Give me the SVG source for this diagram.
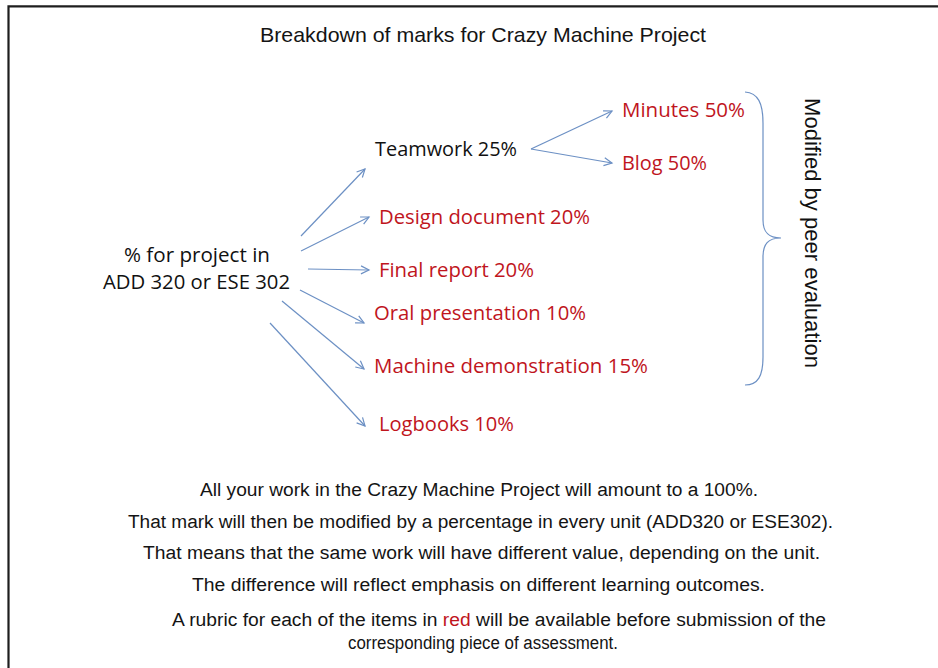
<svg xmlns="http://www.w3.org/2000/svg" width="938" height="668" viewBox="0 0 938 668">
  <style>
    .frame { fill: none; stroke: #1e1e1e; stroke-width: 2.2; }
    .narrow { font-family: "Liberation Sans", Arial, sans-serif; fill: #141414; }
    .label { font-family: "Open Sans", "Noto Sans", sans-serif; font-size: 20px; }
    .black { fill: #111111; }
    .red { fill: #c0151d; }
    .conn { fill: none; stroke: #6c90c4; stroke-width: 1.2; }
  </style>
  <defs>
    <marker id="arrow" markerUnits="userSpaceOnUse" markerWidth="12" markerHeight="12" refX="9" refY="5" orient="auto">
      <path d="M1,1 L9,5 L1,9" fill="none" stroke="#6c90c4" stroke-width="1.2"/>
    </marker>
  </defs>

  <rect width="938" height="668" fill="#ffffff"/>
  <!-- outer frame: only the left and top edges are visible -->
  <path class="frame" d="M8.5,668 V6.3 H938"/>

  <text class="narrow" x="483" y="42" font-size="21" text-anchor="middle" textLength="446" lengthAdjust="spacingAndGlyphs">Breakdown of marks for Crazy Machine Project</text>

  <g id="source">
    <text class="label black" x="124" y="262" textLength="146" lengthAdjust="spacingAndGlyphs">% for project in</text>
    <text class="label black" x="103" y="289" textLength="187" lengthAdjust="spacingAndGlyphs">ADD 320 or ESE 302</text>
  </g>
  <g id="teamwork">
    <text class="label black" x="375" y="156" textLength="142" lengthAdjust="spacingAndGlyphs">Teamwork 25%</text>
  </g>
  <g id="minutes">
    <text class="label red" x="622" y="117" textLength="123" lengthAdjust="spacingAndGlyphs">Minutes 50%</text>
  </g>
  <g id="blog">
    <text class="label red" x="622" y="170" textLength="85" lengthAdjust="spacingAndGlyphs">Blog 50%</text>
  </g>
  <g id="design">
    <text class="label red" x="379" y="224" textLength="211" lengthAdjust="spacingAndGlyphs">Design document 20%</text>
  </g>
  <g id="final">
    <text class="label red" x="379" y="277" textLength="155" lengthAdjust="spacingAndGlyphs">Final report 20%</text>
  </g>
  <g id="oral">
    <text class="label red" x="374" y="320" textLength="212" lengthAdjust="spacingAndGlyphs">Oral presentation 10%</text>
  </g>
  <g id="machine">
    <text class="label red" x="374" y="373" textLength="274" lengthAdjust="spacingAndGlyphs">Machine demonstration 15%</text>
  </g>
  <g id="logbooks">
    <text class="label red" x="379" y="431" textLength="135" lengthAdjust="spacingAndGlyphs">Logbooks 10%</text>
  </g>
  <g id="peer">
    <path class="conn" d="M745,92 C758,93 763,103 763,123 L763,220 C763,232 768,238 781,238 C768,238 763,244 763,257 L763,357 C763,376 758,385 745,385"/>
    <text transform="translate(805,98) rotate(90)" font-family="'Liberation Sans', Arial, sans-serif" font-size="22" fill="#111111" textLength="270" lengthAdjust="spacingAndGlyphs">Modified by peer evaluation</text>
  </g>

  <g id="connectors">
    <line class="conn" x1="301" y1="236" x2="365" y2="169" marker-end="url(#arrow)"/>
    <line class="conn" x1="301" y1="251" x2="369" y2="217" marker-end="url(#arrow)"/>
    <line class="conn" x1="308" y1="269" x2="369" y2="270" marker-end="url(#arrow)"/>
    <line class="conn" x1="300" y1="290" x2="364" y2="323" marker-end="url(#arrow)"/>
    <line class="conn" x1="282" y1="301" x2="364" y2="369" marker-end="url(#arrow)"/>
    <line class="conn" x1="270" y1="323" x2="365" y2="426" marker-end="url(#arrow)"/>
    <line class="conn" x1="531" y1="149" x2="612" y2="111" marker-end="url(#arrow)"/>
    <line class="conn" x1="531" y1="149" x2="612" y2="163" marker-end="url(#arrow)"/>
  </g>

  <g id="notes">
    <text class="narrow" x="479" y="496" font-size="18" text-anchor="middle" textLength="558" lengthAdjust="spacingAndGlyphs">All your work in the Crazy Machine Project will amount to a 100%.</text>
    <text class="narrow" x="480.5" y="528" font-size="18" text-anchor="middle" textLength="705" lengthAdjust="spacingAndGlyphs">That mark will then be modified by a percentage in every unit (ADD320 or ESE302).</text>
    <text class="narrow" x="481.5" y="559" font-size="18" text-anchor="middle" textLength="677" lengthAdjust="spacingAndGlyphs">That means that the same work will have different value, depending on the unit.</text>
    <text class="narrow" x="478.5" y="591" font-size="18" text-anchor="middle" textLength="573" lengthAdjust="spacingAndGlyphs">The difference will reflect emphasis on different learning outcomes.</text>
    <text class="narrow" x="172" y="626" font-size="18" textLength="654" lengthAdjust="spacingAndGlyphs">A rubric for each of the items in <tspan fill="#c0151d">red</tspan> will be available before submission of the</text>
    <text class="narrow" x="483" y="649" font-size="18" text-anchor="middle" textLength="270" lengthAdjust="spacingAndGlyphs">corresponding piece of assessment.</text>
  </g>
</svg>
